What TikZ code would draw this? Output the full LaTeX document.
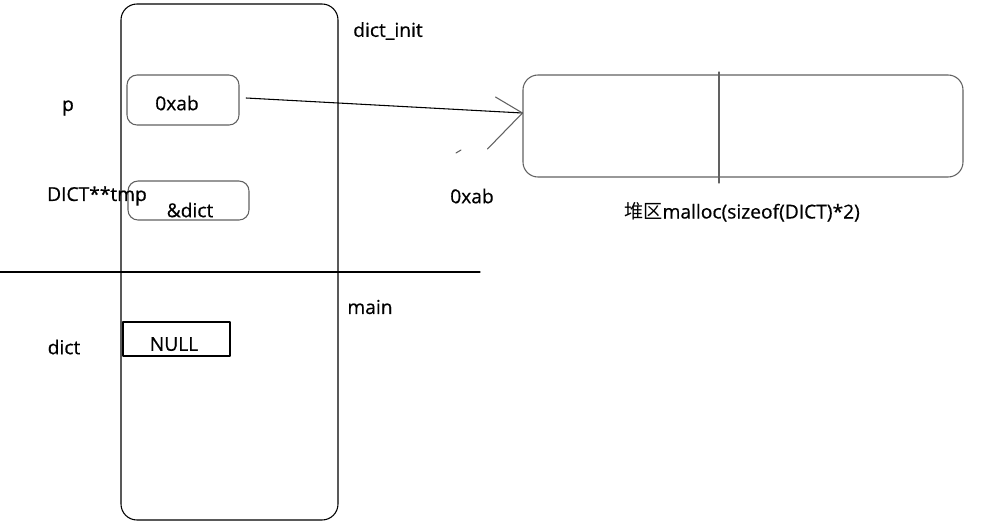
\documentclass[tikz,border=0pt]{standalone}
\usepackage{fontspec}
\setmainfont[FakeBold=0.6]{Open Sans}
\newfontfamily\cjkfont{Noto Sans CJK SC}
\usetikzlibrary{positioning}
\definecolor{pen}{rgb}{0.38,0.38,0.38}
\tikzset{
    slot/.style = {draw=pen, line width=0.8pt, rounded corners=7.5pt, inner sep=0pt},
    word/.style = {inner sep=0pt, text=black, font=\fontsize{14.4}{17}\selectfont},
    barb/.style = {draw=pen, line width=0.8pt}
}

\begin{document}
\begin{tikzpicture}[line cap=round,line join=round,x=0.75pt,y=-0.75pt]
    \useasboundingbox (0,0) rectangle (990,526);

    % stack column and frame border
    \draw [line width=0.8pt, rounded corners=12pt] (121,4) rectangle (338,520);
    \draw [line width=0.8pt] (0,272) -- (480,272);

    % slots on the stack
    \node [slot, minimum width=84pt, minimum height=37.5pt] (pslot) at (183,100) {};
    \node [slot, minimum width=90.75pt, minimum height=29.25pt] (tslot) at (188.5,200.5) {};
    \node [slot, draw=black, rounded corners=0pt, minimum width=80.25pt, minimum height=25.5pt] (nslot) at (176.5,339) {};

    % heap block
    \node [slot, rounded corners=11.25pt, minimum width=330pt, minimum height=76.5pt] (heap) at (743,126) {};
    \draw [barb] (719,72) -- (719,183);

    % texts
    \node [word] (finit) at (388,31) {dict\_init};
    \node [word] (fmain) at (370,307) {main};
    \node [word] (np) at (68,108) {p};
    \node [word] (ntmp) at (97,196) {DICT**tmp};
    \node [word] (ndict) at (64,347) {dict};
    \node [word] (vp) at (177,103) {0xab};
    \node [word] (vtmp) at (190,210) {\&dict};
    \node [word] (vdict) at (174,344) {NULL};
    \node [word] (vheap) at (472,196) {0xab};
    \node [word] (lheap) at (742,212) {{\cjkfont 堆区}malloc(sizeof(DICT)*2)};

    % pointer p -> heap
    \coordinate (tip) at ([yshift=9.75pt]heap.west);
    \draw [line width=0.8pt] ([xshift=5pt,yshift=1.5pt]pslot.east) -- (tip);
    \draw [barb] (tip) -- ++(-27,-16);
    \draw [barb] (tip) -- ++(-35,36);
    \draw [barb] (456,153) -- (461,150);
\end{tikzpicture}
\end{document}
